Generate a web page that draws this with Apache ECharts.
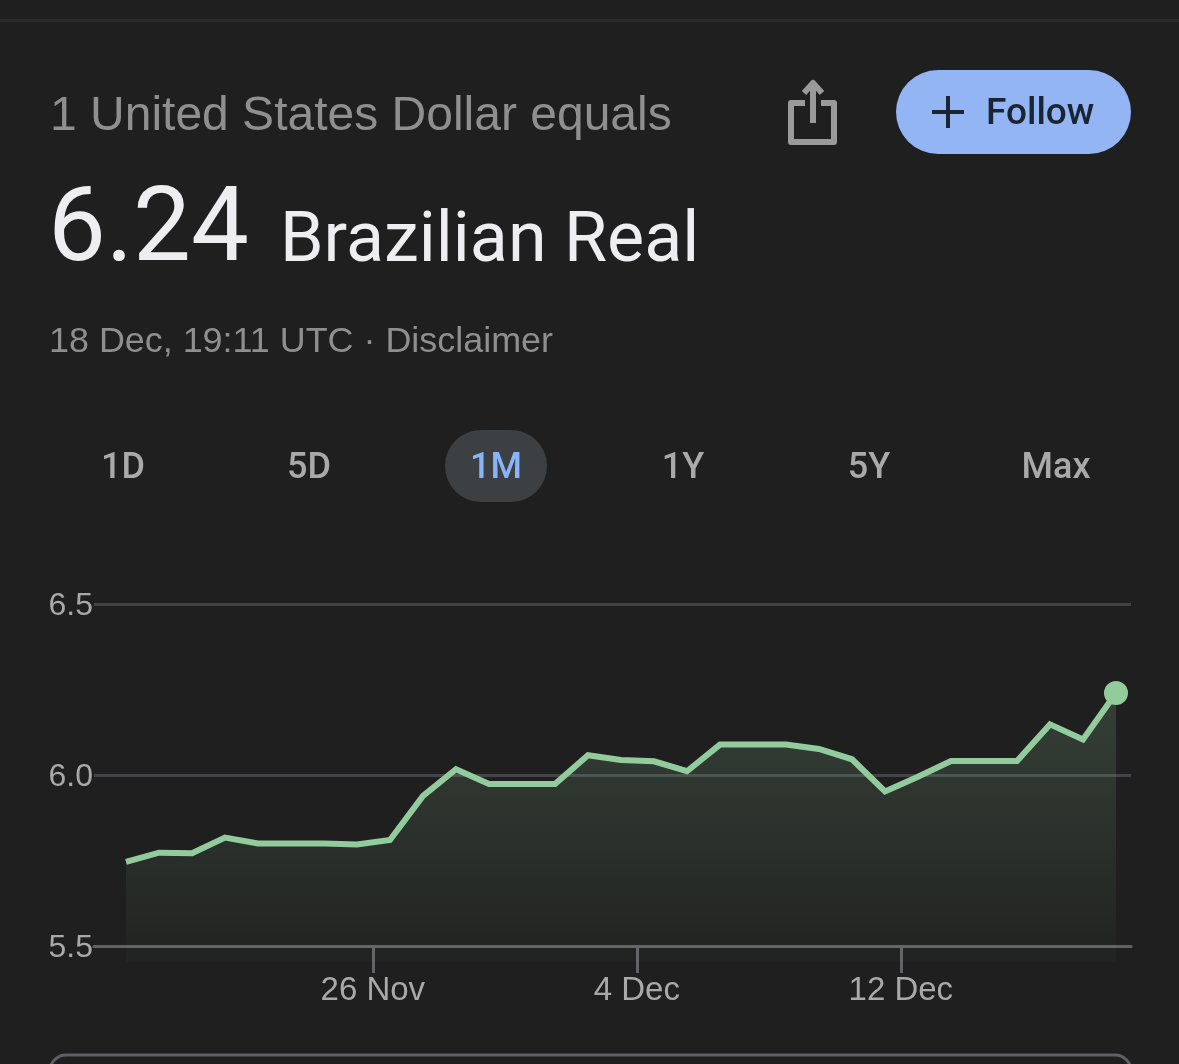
<!DOCTYPE html>
<html>
<head>
<meta charset="utf-8">
<style>html,body{margin:0;padding:0;background:#1f1f1f}#chart{width:1179px;height:1064px}</style>
<script src="https://cdn.jsdelivr.net/npm/echarts@6/dist/echarts.min.js"></script>
</head>
<body>
<div id="chart"></div>
<script>
// USD to BRL daily closes over the last month
const firstSample = Date.UTC(2024, 10, 18, 12, 30);
const dayMs = 86400000;
const rates = [
  5.746, 5.773, 5.771, 5.817, 5.800, 5.800, 5.800, 5.797, 5.810, 5.939, 6.017,
  5.974, 5.974, 5.974, 6.058, 6.044, 6.040, 6.011, 6.089, 6.089, 6.089, 6.076,
  6.046, 5.952, 5.995, 6.041, 6.041, 6.041, 6.148, 6.104, 6.24
];
const yTicks = [5.5, 6.0, 6.5];
const dateTicks = [
  { time: Date.UTC(2024, 10, 26), label: '26 Nov' },
  { time: Date.UTC(2024, 11, 4), label: '4 Dec' },
  { time: Date.UTC(2024, 11, 12), label: '12 Dec' }
];
const ranges = ['1D', '5D', '1M', '1Y', '5Y', 'Max'];
const rangeCentres = [123, 309, 496, 683, 869, 1056];
const activeRange = '1M';

const points = rates.map((v, i) => [firstSample + i * dayMs, v]);
const labelByTime = new Map(dateTicks.map(d => [d.time, d.label]));

const SANS = '"Liberation Sans", Arial, sans-serif';
const ROUNDED = 'Roboto, sans-serif';
const GREEN = '#93cc9c';

function text(x, y, str, size, fill, extra) {
  return {
    type: 'text', x, y, silent: true,
    style: Object.assign({
      text: str, fontSize: size, fontFamily: SANS, fill,
      textAlign: 'left', textVerticalAlign: 'middle'
    }, extra || {})
  };
}

const rangeButtons = ranges.map((r, i) => text(rangeCentres[i], 469, r, 36,
  r === activeRange ? '#8ab4f8' : '#a9a9a9',
  { textAlign: 'center', fontFamily: ROUNDED, fontWeight: 500 }));

const iconStroke = { stroke: '#9a9a9a', lineWidth: 6, fill: null, lineJoin: 'round' };

const graphics = [
  { type: 'rect', shape: { x: 0, y: 19, width: 1179, height: 3 }, style: { fill: '#292b2e' }, silent: true },
  text(50, 117, '1 United States Dollar equals', 48, '#8f8f8f'),
  text(48, 234, '6.24', 103, '#eeeef0', { fontFamily: ROUNDED, fontWeight: 400 }),
  text(280, 243, 'Brazilian Real', 70, '#eeeef0', { fontFamily: ROUNDED, fontWeight: 400 }),
  text(49, 342, '18 Dec, 19:11 UTC · Disclaimer', 35.9, '#8f8f8f'),
  // share icon: open tray with an upward arrow
  { type: 'polyline', silent: true, shape: { points: [[805, 103], [791, 103], [791, 142], [834, 142], [834, 103], [821, 103]] }, style: iconStroke },
  { type: 'line', silent: true, shape: { x1: 813, y1: 123, x2: 813, y2: 84 }, style: iconStroke },
  { type: 'polyline', silent: true, shape: { points: [[804, 93], [813, 83], [822, 93]] }, style: iconStroke },
  // follow button
  { type: 'rect', silent: true, shape: { x: 896, y: 70, width: 235, height: 84, r: 42 }, style: { fill: '#93b5f3' } },
  { type: 'rect', silent: true, shape: { x: 932, y: 110, width: 32, height: 4 }, style: { fill: '#1b2433' } },
  { type: 'rect', silent: true, shape: { x: 946, y: 96, width: 4, height: 32 }, style: { fill: '#1b2433' } },
  text(986, 115, 'Follow', 37, '#1b2433', { fontFamily: ROUNDED, fontWeight: 500 }),
  // active range pill
  { type: 'rect', silent: true, shape: { x: 445, y: 430, width: 102, height: 72, r: 36 }, style: { fill: '#3c4043' } },
  ...rangeButtons,
  // top edge of the panel below the chart
  { type: 'rect', silent: true, shape: { x: 50, y: 1055, width: 1081, height: 60, r: 16 }, style: { fill: null, stroke: '#5f6064', lineWidth: 3 } }
];

const chart = echarts.init(document.getElementById('chart'), null, { renderer: 'canvas' });
chart.setOption({
  backgroundColor: '#1f1f1f',
  animation: false,
  grid: { left: 94, right: 48, top: 604, bottom: 118 },
  xAxis: {
    type: 'value',
    scale: true,
    min: firstSample - 0.97 * dayMs,
    max: firstSample + 30.4545 * dayMs,
    axisLine: { lineStyle: { color: '#626266', width: 3 } },
    axisTick: { customValues: dateTicks.map(d => d.time), length: 27, lineStyle: { color: '#626266', width: 3 } },
    axisLabel: {
      customValues: dateTicks.map(d => d.time),
      formatter: v => labelByTime.get(v) || '',
      color: '#a9a9a9', fontFamily: SANS, fontSize: 33, margin: 28
    },
    splitLine: { show: false }
  },
  yAxis: {
    type: 'value',
    min: yTicks[0], max: yTicks[yTicks.length - 1], interval: 0.5,
    axisLine: { show: false },
    axisTick: { show: false },
    axisLabel: {
      formatter: v => '{v|' + v.toFixed(1) + '}',
      margin: 1,
      rich: { v: { color: '#a9a9a9', fontFamily: SANS, fontSize: 32, padding: [4, 0, 0, 0] } }
    },
    splitLine: { lineStyle: { color: '#424347', width: 3 } }
  },
  series: [
    {
      type: 'line', data: points, showSymbol: false, clip: false,
      lineStyle: { color: GREEN, width: 6, join: 'miter' },
      areaStyle: {
        origin: 5.453,
        color: { type: 'linear', x: 0, y: 0, x2: 0, y2: 1, colorStops: [
          { offset: 0, color: 'rgba(147,204,156,0.27)' },
          { offset: 1, color: 'rgba(147,204,156,0.03)' }
        ] }
      }
    },
    {
      type: 'scatter', data: points.slice(-1), symbolSize: 24,
      itemStyle: { color: GREEN, opacity: 1 }
    }
  ],
  graphic: graphics
});
</script>
</body>
</html>
